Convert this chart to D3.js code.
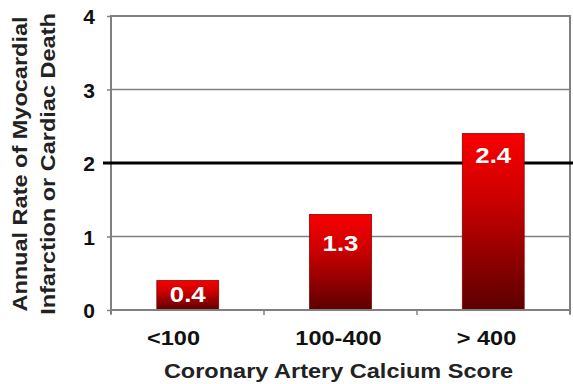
<!DOCTYPE html>
<html><head><meta charset="utf-8">
<script src="https://cdn.jsdelivr.net/npm/d3@7"></script>
<style>body{margin:0;background:#fff}svg{display:block}text{font-family:"Liberation Sans",Arial,sans-serif;font-weight:bold}</style>
</head><body>
<script>
const categories = ["<100", "100-400", "> 400"];
const values = [0.4, 1.3, 2.4];
const valueLabels = ["0.4", "1.3", "2.4"];
const yTicks = [0, 1, 2, 3, 4];
const referenceValue = 2;
const xTitle = "Coronary Artery Calcium Score";
const yTitle = ["Annual Rate of Myocardial", "Infarction or Cardiac Death"];

const W = 573, H = 384;
const svg = d3.select("body").append("svg").attr("width", W).attr("height", H);
const L = 111, R = 570, T = 16, B = 310;
const SX = 1.12;

const defs = svg.append("defs");
const g = defs.append("linearGradient").attr("id", "barGrad").attr("x1", 0).attr("y1", 0).attr("x2", 0).attr("y2", 1);
g.append("stop").attr("offset", "0%").attr("stop-color", "#f80000");
g.append("stop").attr("offset", "35%").attr("stop-color", "#d00000");
g.append("stop").attr("offset", "100%").attr("stop-color", "#5c0000");

const x = d3.scaleBand().domain(categories).range([L, R]).paddingInner(0.595).paddingOuter(0.3);
const xb = d3.scaleBand().domain(categories).range([L, R]);
const y = d3.scaleLinear().domain([0, 4]).range([B, T]);

// gridlines
svg.selectAll(".grid").data(yTicks.filter(t => t > 0 && t < 4 && t !== referenceValue)).enter()
  .append("line").attr("x1", L).attr("x2", R).attr("y1", d => y(d)).attr("y2", d => y(d))
  .attr("stroke", "#808080").attr("stroke-width", 1.5);

// frame
svg.append("path").attr("d", `M${L},${B + 4}V${y(4)}H${R}V${B + 4}`)
  .attr("fill", "none").attr("stroke", "#808080").attr("stroke-width", 2);

// y axis
const yAxis = svg.append("g").attr("transform", `translate(${L},0)`)
  .call(d3.axisLeft(y).tickValues(yTicks).tickSize(4).tickPadding(12).tickFormat(d3.format("d")));
yAxis.select(".domain").remove();
yAxis.selectAll(".tick line").attr("stroke", "#808080").attr("stroke-width", 1.5);
yAxis.selectAll(".tick text").attr("font-size", 21).attr("fill", "#111")
  .attr("font-family", "Liberation Sans, Arial, sans-serif").attr("font-weight", "bold")
  .attr("dy", "0.38em");

// reference line (behind bars)
svg.append("line").attr("x1", L - 8).attr("x2", W).attr("y1", y(referenceValue)).attr("y2", y(referenceValue))
  .attr("stroke", "#000").attr("stroke-width", 3);

// bars
svg.selectAll(".bar").data(values).enter().append("rect")
  .attr("x", (d, i) => x(categories[i])).attr("width", x.bandwidth())
  .attr("y", d => y(d)).attr("height", d => B - y(d))
  .attr("fill", "url(#barGrad)").attr("stroke", "#8a0000").attr("stroke-width", 0.8);

// x axis
svg.append("line").attr("x1", L).attr("x2", R).attr("y1", B).attr("y2", B)
  .attr("stroke", "#808080").attr("stroke-width", 2);
const bounds = [L].concat(categories.slice(1).map(c => xb(c))).concat([R]);
svg.selectAll(".xt").data(bounds).enter().append("line")
  .attr("x1", d => d).attr("x2", d => d).attr("y1", B).attr("y2", B + 5)
  .attr("stroke", "#808080").attr("stroke-width", 1.5);
const xdx = [-14, -2, -7];
svg.selectAll(".xl").data(categories).enter().append("text")
  .attr("transform", (d, i) => `translate(${xb(d) + xb.bandwidth() / 2 + xdx[i]},${B + 35}) scale(${SX},1)`)
  .attr("text-anchor", "middle").attr("font-size", 21).attr("fill", "#111").text(d => d);

// value labels
const ldy = [21, 37, 29];
svg.selectAll(".vl").data(values).enter().append("text")
  .attr("transform", (d, i) => `translate(${x(categories[i]) + x.bandwidth() / 2},${y(d) + ldy[i]}) scale(${SX},1)`)
  .attr("text-anchor", "middle").attr("font-size", 23).attr("fill", "#fff").text((d, i) => valueLabels[i]);

// titles
svg.append("text").attr("transform", `translate(${(L + R) / 2 - 2},${B + 68}) scale(${SX},1)`)
  .attr("text-anchor", "middle").attr("font-size", 21).attr("fill", "#222").text(xTitle);
yTitle.forEach((t, i) => {
  svg.append("text").attr("transform", `translate(${27 + i * 28},${164}) rotate(-90) scale(${SX},1)`)
    .attr("text-anchor", "middle").attr("font-size", 21).attr("fill", "#222").text(t);
});
</script>
</body></html>
